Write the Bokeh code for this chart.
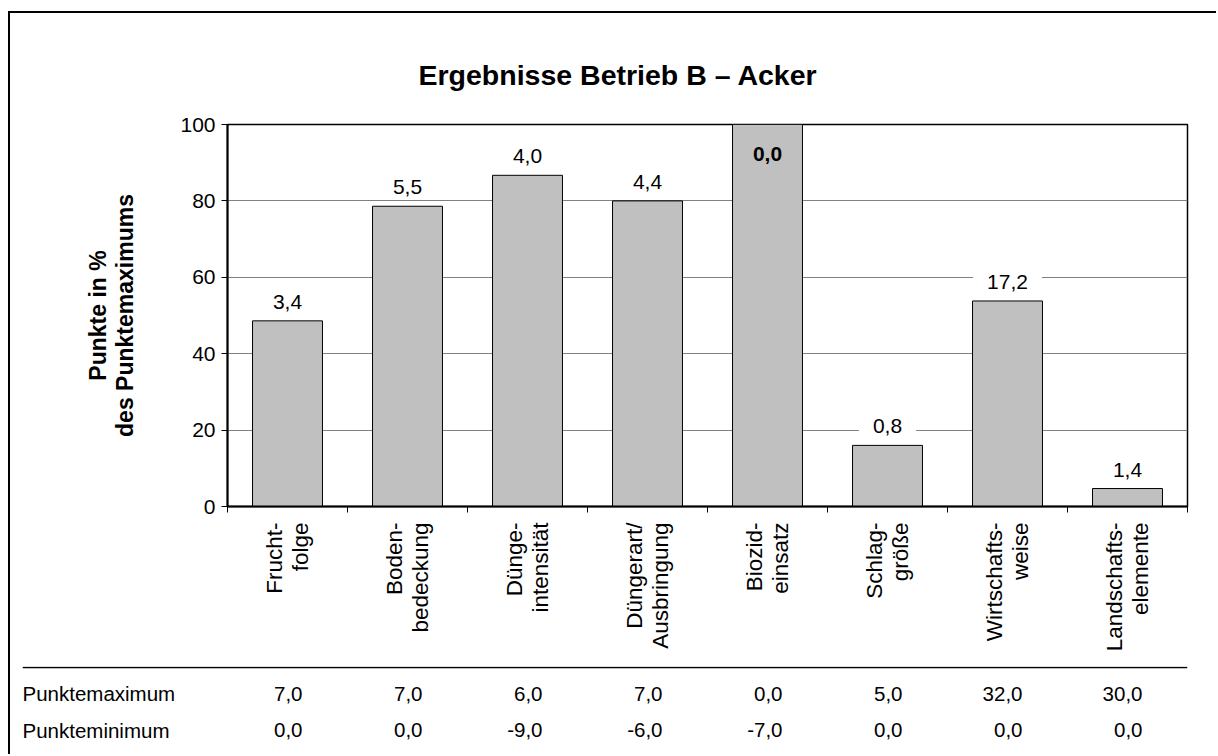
import math
from bokeh.plotting import figure
from bokeh.models import Range1d, LinearAxis, FixedTicker, ColumnDataSource, Span, Grid, Title
from bokeh.core.properties import value
from bokeh.embed import file_html
from bokeh.resources import INLINE

# ---- data ----
categories = ["Frucht-\nfolge", "Boden-\nbedeckung", "Dünge-\nintensität", "Düngerart/\nAusbringung",
              "Biozid-\neinsatz", "Schlag-\ngröße", "Wirtschafts-\nweise", "Landschafts-\nelemente"]
percent = [48.6, 78.6, 86.7, 80.0, 100.0, 16.0, 53.8, 4.7]
points = ["3,4", "5,5", "4,0", "4,4", "0,0", "0,8", "17,2", "1,4"]
punktemaximum = ["7,0", "7,0", "6,0", "7,0", "0,0", "5,0", "32,0", "30,0"]
punkteminimum = ["0,0", "0,0", "-9,0", "-6,0", "-7,0", "0,0", "0,0", "0,0"]
row_names = ["Punktemaximum", "Punkteminimum"]
y_ticks = [0, 20, 40, 60, 80, 100]
title_text = "Ergebnisse Betrieb B – Acker"
y_label = "Punkte in %\ndes Punktemaximums"

FONT = "Liberation Sans"
n = len(categories)
xc = [i + 0.5 for i in range(n)]

W = 1208
p = figure(width=W, height=653, x_range=Range1d(0, n), y_range=Range1d(0, 100),
           output_backend="svg", toolbar_location=None, x_axis_type=None, y_axis_type=None,
           min_border_left=217, min_border_right=31, min_border_top=111, min_border_bottom=160)
p.outline_line_color = "black"
p.outline_line_width = 1.5
p.background_fill_color = "white"
p.border_fill_color = "white"
p.styles = {"margin-left": "10px", "margin-top": "13px",
            "box-shadow": "-2px -2px 0 0 black, -2px 0 0 0 black"}

p.title = Title(text=title_text, align="left", offset=191, text_font=FONT, text_font_size="28.5px",
                text_font_style="bold", text_color="black", standoff=68)

yax = LinearAxis(ticker=FixedTicker(ticks=y_ticks, minor_ticks=[]),
                 axis_line_width=2, axis_line_color="black",
                 major_tick_out=6, major_tick_in=0, major_tick_line_color="black",
                 major_label_standoff=6, major_label_text_font=FONT, major_label_text_font_size="21px",
                 major_label_text_color="black",
                 axis_label=y_label, axis_label_text_font=FONT, axis_label_text_font_size="23px",
                 axis_label_text_font_style="bold", axis_label_text_color="black",
                 axis_label_text_line_height=1.05, axis_label_standoff=39)
p.add_layout(yax, "left")
p.add_layout(Grid(dimension=1, ticker=FixedTicker(ticks=y_ticks[1:-1]), grid_line_color="#808080",
                  grid_line_width=1))

xax = LinearAxis(ticker=FixedTicker(ticks=xc, minor_ticks=list(range(n + 1))),
                 major_label_overrides={xc[i]: categories[i] for i in range(n)},
                 major_label_orientation=math.pi / 2,
                 axis_line_width=2, axis_line_color="black",
                 major_tick_out=0, major_tick_in=0,
                 minor_tick_out=6, minor_tick_in=0, minor_tick_line_color="black",
                 major_label_standoff=10, major_label_text_font=FONT, major_label_text_font_size="22.5px",
                 major_label_text_line_height=1.05,
                 major_label_text_color="black")
p.add_layout(xax, "below")

src = ColumnDataSource(dict(x=xc, top=percent))
p.vbar(x="x", top="top", bottom=0, width=0.583, source=src,
       fill_color="#c0c0c0", line_color="black", line_width=1)

out_i = [i for i in range(n) if percent[i] < 100]
in_i = [i for i in range(n) if percent[i] >= 100]
p.text(x=[xc[i] for i in out_i], y=[percent[i] for i in out_i], text=[points[i] for i in out_i],
       text_align="center", text_baseline="middle", y_offset=-19,
       text_font=value(FONT), text_font_size="21px", text_color="black",
       background_fill_color="white", padding=dict(left=14, right=14, top=1, bottom=1))
p.text(x=[xc[i] for i in in_i], y=[percent[i] for i in in_i], text=[points[i] for i in in_i],
       text_align="center", text_baseline="middle", y_offset=29,
       text_font=value(FONT), text_font_size="21px", text_font_style="bold", text_color="black")

# ---- table below (separate root, its own frame) ----
frame_w = W - 12 - 31
xstart = n - frame_w / 120.0
t = figure(width=W, height=88, x_range=Range1d(xstart, n), y_range=Range1d(-0.649, 1.73),
           output_backend="svg", toolbar_location=None, x_axis_type=None, y_axis_type=None,
           min_border_left=12, min_border_right=31, min_border_top=0, min_border_bottom=0)
t.outline_line_color = None
t.background_fill_color = "white"
t.border_fill_color = "white"
t.styles = {"margin-left": "10px", "box-shadow": "-2px 0 0 0 black"}
t.add_layout(Span(location=1.70, dimension="width", line_color="black", line_width=1.5))
t.text(x=[xstart, xstart], y=[1, 0], text=row_names, text_align="left", text_baseline="middle",
       text_font=value(FONT), text_font_size="20.5px", text_color="black")
t.text(x=xc + xc, y=[1] * n + [0] * n, text=punktemaximum + punkteminimum,
       text_align="right", text_baseline="middle", x_offset=15,
       text_font=value(FONT), text_font_size="20.5px", text_color="black")

with open("out.html", "w") as f:
    f.write(file_html([p, t], INLINE))
